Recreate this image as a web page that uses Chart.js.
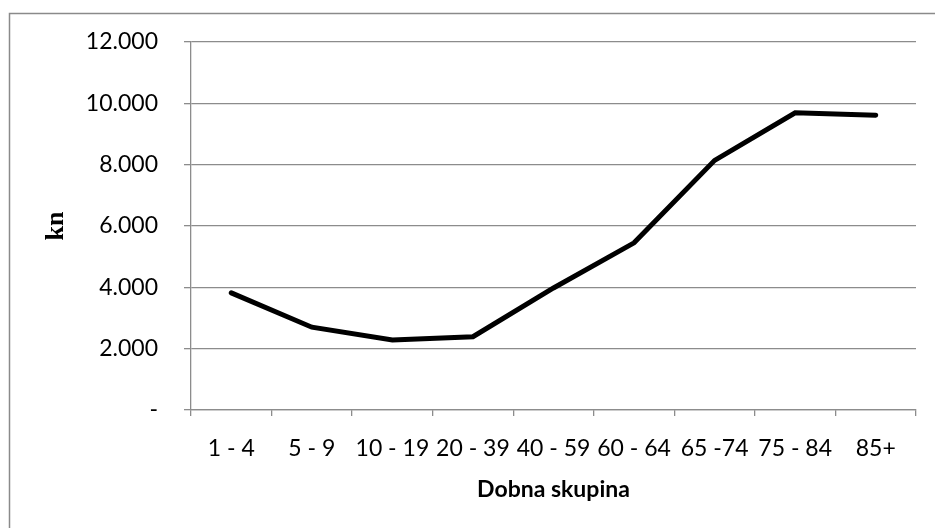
<!DOCTYPE html>
<html>
<head>
<meta charset="utf-8">
<script src="https://cdn.jsdelivr.net/npm/chart.js@4/dist/chart.umd.min.js"></script>
<style>
  html, body { margin: 0; padding: 0; background: #ffffff; }
  #wrap { width: 935px; height: 528px; position: relative; }
</style>
</head>
<body>
<div id="wrap"><canvas id="chart" width="935" height="528"></canvas></div>
<script>
// Age groups and cost per group (kn)
const ageGroups = ['1 - 4', '5 - 9', '10 - 19', '20 - 39', '40 - 59', '60 - 64', '65 -74', '75 - 84', '85+'];
const costValues = [3820, 2700, 2280, 2390, 3980, 5450, 8140, 9690, 9610];
const yTicks = [0, 2000, 4000, 6000, 8000, 10000, 12000];

const GRID = '#8c8c8c';

// outer frame of the chart (runs off the right and bottom edge)
const framePlugin = {
  id: 'frame',
  beforeDraw(chart) {
    const ctx = chart.ctx;
    ctx.save();
    ctx.strokeStyle = '#8a8a8a';
    ctx.lineWidth = 1.5;
    ctx.strokeRect(9.5, 13.5, 1000, 1000);
    ctx.restore();
  }
};

function formatKn(v) {
  if (v === 0) return '-';
  return v.toString().replace(/\B(?=(\d{3})+(?!\d))/g, '.');
}

new Chart(document.getElementById('chart'), {
  type: 'line',
  data: {
    labels: ageGroups,
    datasets: [{
      label: 'kn',
      data: costValues,
      borderColor: '#000000',
      borderWidth: 5,
      borderCapStyle: 'round',
      borderJoinStyle: 'miter',
      pointRadius: 0,
      tension: 0,
      fill: false
    }]
  },
  options: {
    responsive: false,
    animation: false,
    layout: { padding: { left: 41, right: 19, top: 42, bottom: 20 } },
    plugins: {
      legend: { display: false },
      tooltip: { enabled: false }
    },
    scales: {
      x: {
        offset: true,
        grid: {
          offset: true,
          drawOnChartArea: false,
          color: GRID,
          tickLength: 6,
          lineWidth: 1.3
        },
        border: { color: GRID, width: 1.3 },
        ticks: {
          color: '#000000',
          padding: 19,
          maxRotation: 0,
          autoSkip: false,
          font: { family: 'Lato', size: 23 }
        },
        title: {
          display: true,
          text: 'Dobna skupina',
          color: '#000000',
          padding: { top: 0, bottom: 5 },
          font: { family: 'Lato', size: 23, weight: 'bold' }
        },
        afterFit(scale) { scale.height = 98; }
      },
      y: {
        min: 0,
        max: 12000,
        afterBuildTicks(scale) { scale.ticks = yTicks.map(v => ({ value: v })); },
        grid: {
          color: GRID,
          tickLength: 7,
          lineWidth: 1.3
        },
        border: { color: GRID, width: 1.3 },
        ticks: {
          color: '#000000',
          padding: 26,
          font: { family: 'Lato', size: 23 },
          callback: v => formatKn(v)
        },
        title: {
          display: true,
          text: 'kn',
          color: '#000000',
          padding: { top: 0, bottom: 0 },
          font: { family: 'Liberation Serif', size: 26, weight: 'bold' }
        },
        afterFit(scale) { scale.width = 150; }
      }
    }
  },
  plugins: [framePlugin]
});
</script>
</body>
</html>
